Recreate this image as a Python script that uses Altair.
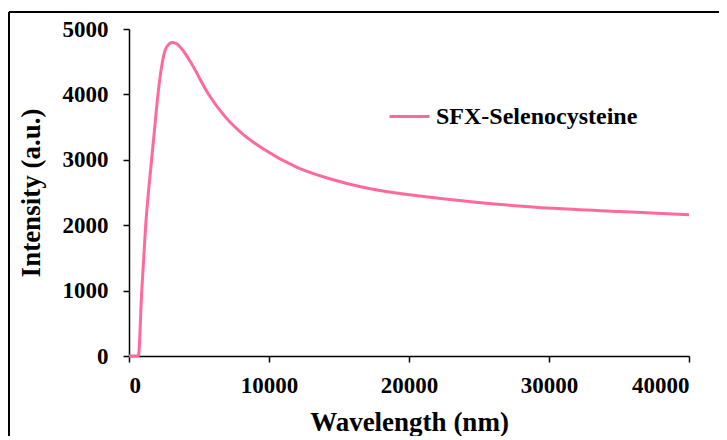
import altair as alt
import pandas as pd

wavelength = [0, 600, 667, 905, 1190, 1620, 1860, 2100, 2570, 2850, 3100, 3400, 3900, 4480,
              5670, 6860, 8170, 9600, 12000, 14400, 16700, 19100, 21500, 25500, 30300, 35100, 40000]
intensity = [0, 0, 0, 974, 1992, 3012, 3547, 4057, 4669, 4770, 4795, 4775, 4660, 4465,
             4006, 3660, 3385, 3165, 2885, 2706, 2580, 2492, 2427, 2335, 2258, 2208, 2160]
series_name = "SFX-Selenocysteine"

df = pd.DataFrame({"Wavelength": wavelength, "Intensity": intensity, "Series": series_name})

FONT = "Liberation Serif"
PINK = "#FF6A9A"

line = alt.Chart(df).mark_line(strokeWidth=3, interpolate="monotone").encode(
    x=alt.X("Wavelength:Q", scale=alt.Scale(domain=[0, 40000], nice=False),
            axis=alt.Axis(values=[0, 10000, 20000, 30000, 40000], format="d",
                          title="Wavelength (nm)")),
    y=alt.Y("Intensity:Q", scale=alt.Scale(domain=[0, 5000], nice=False),
            axis=alt.Axis(values=[0, 1000, 2000, 3000, 4000, 5000], format="d",
                          title="Intensity (a.u.)")),
    color=alt.Color("Series:N", scale=alt.Scale(range=[PINK]),
                    legend=alt.Legend(title=None, orient="none", legendX=259, legendY=66,
                                      symbolType="stroke", symbolSize=1600,
                                      symbolStrokeWidth=3, labelFontSize=24,
                                      labelFont=FONT, labelFontWeight="bold",
                                      labelColor="black", padding=0, labelOffset=5,
                                      labelLimit=0)),
)

frame_top = alt.Chart(df).mark_rule(color="black", strokeWidth=1.5).encode(
    x=alt.value(-120), x2=alt.value(620), y=alt.value(-17),
)
frame_left = alt.Chart(df).mark_rule(color="black", strokeWidth=1.5).encode(
    x=alt.value(-120), y=alt.value(-17), y2=alt.value(440),
)

chart = alt.layer(frame_top, frame_left, line).properties(
    width=560, height=327,
    autosize=alt.AutoSizeParams(type="none"),
    padding={"left": 121, "top": 21, "right": 30, "bottom": 80},
).configure_view(stroke=None).configure_axis(
    grid=False, domainColor="black", domainWidth=1.5, tickColor="black", tickWidth=1.5,
    tickSize=6, labelFont=FONT, labelFontWeight="bold", labelFontSize=23,
    labelColor="black", titleFont=FONT, titleFontWeight="bold",
    titleFontSize=27, titleColor="black",
).configure_axisY(titlePadding=17, labelPadding=15).configure_axisX(titlePadding=12, labelPadding=12)

chart.save("out.html", embed_options={"renderer": "svg", "actions": False})
